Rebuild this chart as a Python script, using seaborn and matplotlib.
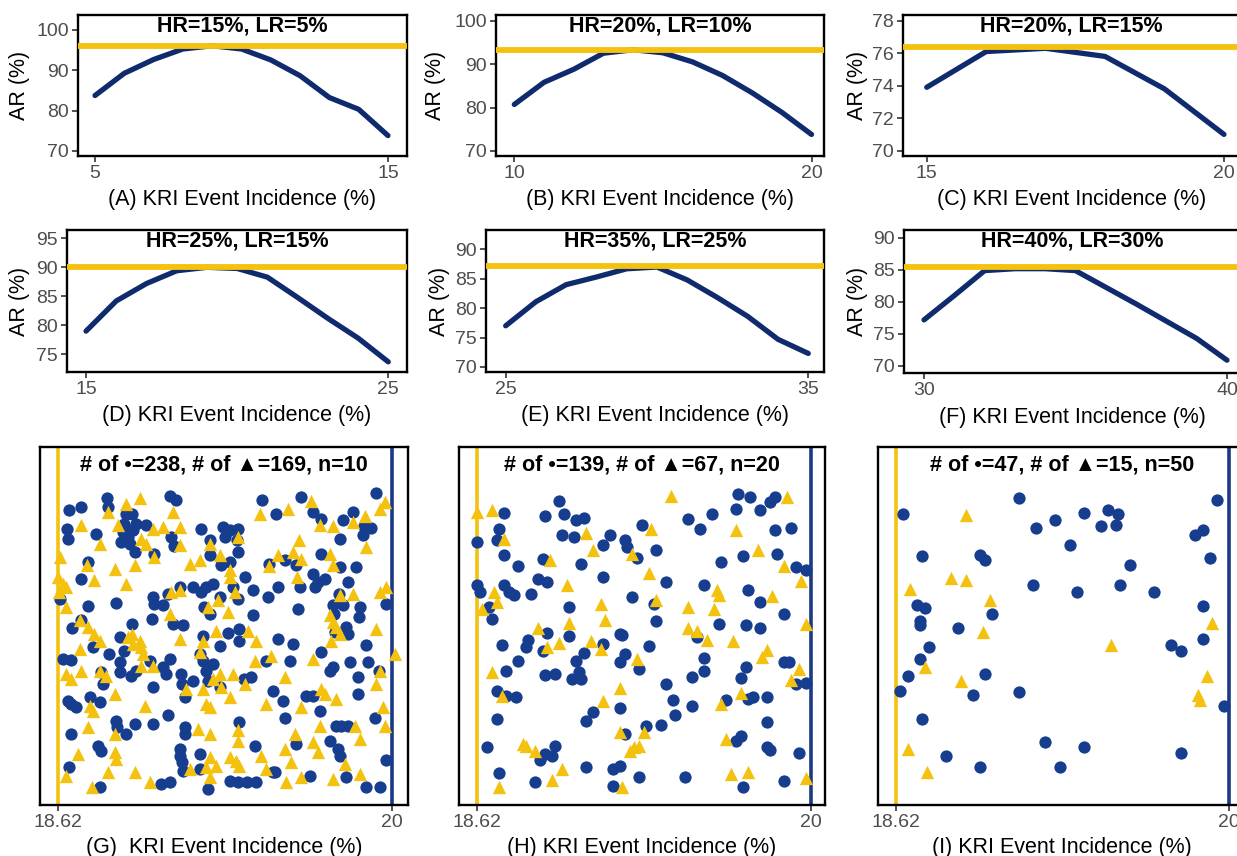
import matplotlib
matplotlib.use("Agg")
import matplotlib.pyplot as plt
import seaborn as sns
import pandas as pd

# ---------------- data: line panels ----------------
A_x = [5, 6, 7, 8, 9, 10, 11, 12, 13, 14, 15]
A_y = [83.7, 89.2, 92.6, 95.2, 96.0, 95.2, 92.5, 88.6, 83.2, 80.3, 73.8]
A_ref = 95.9
B_x = [10, 11, 12, 13, 14, 15, 16, 17, 18, 19, 20]
B_y = [80.7, 85.8, 88.8, 92.5, 93.3, 92.6, 90.5, 87.4, 83.4, 78.9, 73.8]
B_ref = 93.3
C_x = [15, 16, 17, 18, 19, 20]
C_y = [73.9, 76.1, 76.3, 75.8, 73.8, 71.0]
C_ref = 76.4
D_x = [15, 16, 17, 18, 19, 20, 21, 22, 23, 24, 25]
D_y = [79.0, 84.2, 87.2, 89.4, 90.0, 89.8, 88.3, 84.8, 81.2, 77.8, 73.7]
D_ref = 90.1
E_x = [25, 26, 27, 28, 29, 30, 31, 32, 33, 34, 35]
E_y = [77.0, 81.1, 84.0, 85.3, 86.7, 87.0, 84.8, 81.8, 78.6, 74.7, 72.3]
E_ref = 87.1
F_x = [30, 31, 32, 33, 34, 35, 36, 37, 38, 39, 40]
F_y = [77.2, 81.0, 84.9, 85.2, 85.2, 84.9, 82.3, 79.7, 77.0, 74.3, 70.9]
F_ref = 85.5

line_titles = ["HR=15%, LR=5%", "HR=20%, LR=10%", "HR=20%, LR=15%",
               "HR=25%, LR=15%", "HR=35%, LR=25%", "HR=40%, LR=30%"]
line_xlabels = ["(A) KRI Event Incidence (%)", "(B) KRI Event Incidence (%)",
                "(C) KRI Event Incidence (%)", "(D) KRI Event Incidence (%)",
                "(E) KRI Event Incidence (%)", "(F) KRI Event Incidence (%)"]
line_xticks = [[5, 15], [10, 20], [15, 20], [15, 25], [25, 35], [30, 40]]
line_yticks = [[70, 80, 90, 100], [70, 80, 90, 100], [70, 72, 74, 76, 78],
               [75, 80, 85, 90, 95], [70, 75, 80, 85, 90], [70, 75, 80, 85, 90]]

# ---------------- data: scatter panels ----------------
low_bound = 18.62
high_bound = 20
scatter_xticks = [18.62, 20]
scatter_xticklabels = ["18.62", "20"]
scatter_counts = [(238, 169, 10), (139, 67, 20), (47, 15, 50)]
scatter_xlabels = ["(G)  KRI Event Incidence (%)", "(H) KRI Event Incidence (%)",
                   "(I) KRI Event Incidence (%)"]

G_circ = [
    (18.665, 89.2), (18.716, 90.0), (18.822, 92.8), (18.827, 90.0), (18.902, 88.0), (18.927, 87.8),
    (19.081, 93.2), (19.109, 92.0), (19.464, 92.0), (19.522, 87.8), (19.625, 93.0), (19.673, 88.5),
    (19.708, 86.5), (19.797, 86.2), (19.839, 88.5), (19.932, 94.2),
    (18.659, 83.5), (18.661, 80.5), (18.889, 82.5), (18.909, 81.0), (18.930, 83.0), (18.882, 79.5),
    (18.916, 79.0), (18.937, 76.5), (19.088, 81.0), (19.212, 83.5), (19.249, 80.0), (19.302, 84.0),
    (19.329, 83.2), (19.364, 83.5), (19.359, 80.0), (19.784, 80.5), (19.883, 84.2), (19.880, 81.5),
    (19.914, 83.8),
    (18.744, 73.5), (19.015, 76.0), (19.247, 75.5), (19.295, 72.5), (19.329, 73.5), (19.364, 76.5),
    (19.391, 69.0), (19.492, 72.8), (19.560, 74.0), (19.602, 72.5), (19.708, 76.0), (19.784, 72.0),
    (19.850, 72.0),
    (18.627, 62.5), (18.716, 68.5), (18.861, 61.2), (18.744, 60.2), (19.012, 63.0), (19.015, 61.0),
    (19.054, 60.5), (19.074, 64.0), (19.123, 66.0), (19.178, 66.0), (19.212, 64.5), (19.233, 66.0),
    (19.288, 63.0), (19.260, 67.0), (19.343, 66.0), (19.488, 63.0), (19.529, 66.0), (19.673, 70.0),
    (19.694, 67.5), (19.722, 68.5), (19.779, 64.0), (19.756, 60.5), (19.797, 60.5), (19.974, 61.0),
    (18.679, 53.8), (18.714, 56.2), (18.927, 54.8), (19.095, 55.0), (19.136, 54.5), (19.249, 58.0),
    (19.322, 52.3), (19.368, 53.5), (19.370, 50.0), (19.426, 57.5), (19.529, 50.5), (19.591, 49.0),
    (19.759, 58.0), (19.811, 54.0), (19.818, 52.0), (19.894, 48.8),
    (18.641, 44.5), (18.675, 44.2), (18.833, 46.0), (18.875, 43.5), (18.875, 40.5), (18.895, 47.0),
    (18.923, 39.5), (18.944, 41.0), (19.081, 44.5), (19.068, 40.0), (19.129, 40.0), (19.134, 37.0),
    (19.205, 46.0), (19.219, 44.0), (19.233, 41.0), (19.260, 43.0), (19.419, 39.2), (19.577, 44.0),
    (19.708, 46.5), (19.742, 41.0), (19.756, 42.0), (19.825, 43.5), (19.859, 39.0), (19.901, 43.5),
    (19.946, 41.0),
    (18.661, 32.0), (18.675, 31.0), (18.696, 30.0), (18.751, 33.0), (18.792, 31.5), (19.012, 36.0),
    (19.143, 33.0), (19.388, 38.5), (19.508, 35.0), (19.549, 32.0), (19.646, 33.5), (19.673, 33.5),
    (19.701, 29.0), (19.859, 34.0),
    (18.672, 22.0), (18.861, 26.0), (18.864, 24.0), (18.902, 22.0), (18.937, 25.0), (19.074, 27.8),
    (19.143, 24.0), (19.143, 22.0), (19.368, 25.5), (19.556, 26.8), (19.770, 24.5), (19.790, 24.5),
    (19.818, 24.5), (19.928, 26.8), (19.742, 20.0), (19.012, 25.0),
    (18.785, 18.5), (18.799, 17.0), (18.665, 12.2), (19.123, 17.5), (19.123, 15.5), (19.134, 13.5),
    (19.136, 11.0), (19.205, 16.0), (19.205, 11.5), (19.432, 18.5), (19.508, 10.5), (19.605, 19.0),
    (19.777, 17.5), (19.784, 15.5), (19.976, 14.2),
    (19.047, 7.0), (19.081, 7.5), (19.240, 5.5), (19.329, 8.0), (19.364, 7.5), (19.401, 7.5),
    (19.439, 7.5), (19.515, 10.5), (19.660, 9.5), (19.811, 9.0), (19.894, 6.0), (19.949, 6.0),
    (18.792, 6.0),
    (18.941, 85.0), (18.895, 85.0), (19.098, 78.2), (19.680, 66.0),
    (18.985, 84.7), (18.778, 82.0), (19.309, 81.0), (19.426, 65.2), (19.618, 66.0), (19.818, 67.5),
    (19.364, 62.5), (19.223, 60.0), (19.611, 59.3), (19.866, 60.0), (19.863, 57.0), (19.010, 56.5),
    (18.875, 51.2), (18.765, 48.0), (19.219, 51.5), (19.288, 48.5), (19.763, 52.5), (18.999, 44.0),
    (19.054, 42.0), (18.806, 37.0), (19.178, 38.0), (19.240, 38.0), (19.288, 36.0), (19.481, 44.0),
    (18.799, 40.5),
]
G_tri = [
    (19.969, 91.5), (19.664, 91.8), (18.957, 92.8), (18.902, 91.0), (18.827, 88.5), (19.095, 88.5),
    (19.453, 87.8), (19.570, 89.5), (19.887, 87.2), (19.949, 89.5),
    (18.716, 84.5), (18.792, 79.0), (18.868, 84.5), (18.964, 80.5), (18.985, 79.0), (19.012, 83.5),
    (19.054, 84.0), (19.123, 84.0), (19.123, 78.5), (19.247, 79.0), (19.364, 81.0), (19.616, 80.0),
    (19.701, 84.5), (19.756, 84.2), (19.839, 85.5), (19.894, 78.0),
    (18.627, 75.0), (18.740, 72.5), (18.854, 71.5), (18.937, 72.5), (19.015, 75.0), (19.164, 73.0),
    (19.205, 74.0), (19.288, 75.5), (19.329, 71.0), (19.492, 72.2), (19.529, 75.5), (19.591, 76.5),
    (19.625, 74.5), (19.742, 76.0), (19.756, 72.5),
    (18.620, 69.0), (18.641, 67.0), (18.654, 66.0), (18.624, 64.5), (18.771, 68.0), (18.902, 67.0),
    (18.654, 60.0), (19.088, 64.5), (19.123, 65.0), (19.240, 60.0), (19.281, 62.0), (19.350, 64.5),
    (19.329, 69.0), (19.607, 69.0), (19.784, 63.5), (19.839, 64.0), (19.949, 64.5), (19.976, 66.0),
    (18.710, 56.0), (18.744, 54.0), (18.771, 52.0), (18.792, 50.0), (18.909, 51.0), (18.927, 52.0),
    (18.957, 50.0), (18.930, 49.0), (19.123, 50.5), (19.081, 58.0), (19.219, 50.0), (19.274, 53.0),
    (19.405, 53.0), (19.439, 50.0), (19.322, 58.5), (19.742, 57.5), (19.756, 55.5), (19.770, 54.0),
    (19.749, 50.0), (19.784, 52.0), (19.935, 53.5),
    (18.654, 40.0), (18.675, 38.5), (18.716, 41.0), (18.710, 47.5), (18.792, 41.0), (18.820, 39.5),
    (18.964, 48.0), (18.971, 46.0), (19.012, 42.5), (18.964, 42.5), (19.205, 46.5), (19.288, 40.0),
    (19.260, 38.5), (19.343, 40.0), (19.432, 44.0), (19.501, 45.5), (19.556, 39.0), (19.673, 44.5),
    (19.949, 41.0), (20.011, 46.0), (19.935, 37.0),
    (18.751, 30.5), (18.765, 29.0), (18.854, 34.0), (18.978, 30.5), (19.150, 35.5), (19.219, 35.5),
    (19.233, 31.0), (19.247, 30.0), (19.295, 36.0), (19.329, 33.0), (19.391, 37.0), (19.481, 31.0),
    (19.625, 30.0), (19.708, 35.5), (19.722, 34.0), (19.770, 32.5), (19.963, 30.0),
    (18.744, 24.0), (18.854, 22.0), (19.198, 23.5), (19.247, 22.0), (19.364, 23.2), (19.364, 20.0),
    (19.598, 22.0), (19.701, 24.5), (19.846, 24.5), (19.866, 20.5), (19.969, 24.5),
    (18.854, 16.5), (18.861, 14.5), (18.703, 16.0), (18.654, 9.5), (18.827, 10.5), (18.937, 10.5),
    (19.247, 15.0), (19.274, 12.5), (19.233, 12.0), (19.329, 15.0), (19.357, 14.0), (19.370, 12.5),
    (19.460, 15.5), (19.481, 11.5), (19.556, 17.5), (19.584, 13.5), (19.673, 19.5), (19.694, 16.5),
    (19.804, 13.0), (19.866, 10.0),
    (18.762, 6.0), (18.999, 7.5), (19.164, 11.5), (19.247, 9.0), (19.563, 7.5), (19.625, 9.0),
    (19.756, 8.5),
]
H_circ = [
    (18.73, 88.2), (18.71, 83.5), (18.70, 80.2), (18.73, 75.5), (18.62, 79.5), (18.79, 72.2),
    (18.62, 66.5), (18.63, 64.5), (18.73, 66.5), (18.75, 64.5), (18.77, 63.5), (18.67, 60.0),
    (18.68, 56.5), (18.84, 64.0), (18.87, 68.5), (18.91, 67.5), (18.90, 87.2), (18.98, 87.8),
    (18.96, 91.8), (19.03, 86.0), (19.06, 86.8), (18.97, 81.5), (19.02, 81.0), (19.14, 78.5),
    (19.17, 81.5), (19.23, 80.0), (19.24, 78.0), (19.28, 74.8), (19.30, 84.5), (19.36, 77.0),
    (19.05, 73.0), (18.89, 74.5), (19.14, 69.0), (19.00, 60.0), (19.26, 63.0), (19.35, 60.8),
    (19.36, 55.8), (19.40, 67.5), (19.49, 86.5), (19.54, 83.5), (19.59, 88.0), (19.56, 66.5),
    (19.63, 73.5), (19.69, 89.5), (19.70, 94.0), (19.75, 93.0), (19.79, 89.0), (19.83, 91.5),
    (19.85, 93.0), (19.85, 83.2), (19.92, 83.8), (19.86, 76.0), (19.94, 72.0), (19.98, 71.0),
    (19.72, 75.2), (19.74, 65.0), (19.79, 61.5), (19.89, 57.8), (19.73, 54.5), (19.79, 53.8),
    (19.62, 55.0), (19.89, 43.5), (19.91, 43.5), (19.73, 42.2), (19.71, 38.8), (19.76, 33.2),
    (19.82, 33.2), (19.82, 25.5), (19.98, 37.2), (19.94, 37.0), (18.72, 48.8), (18.83, 50.2),
    (18.82, 48.0), (18.91, 52.2), (18.89, 47.0), (18.79, 44.0), (18.74, 41.0), (18.90, 39.7),
    (18.94, 40.0), (19.00, 51.5), (19.03, 44.0), (19.01, 38.5), (19.05, 38.5), (19.04, 40.5),
    (19.14, 49.0), (19.06, 46.2), (19.21, 52.0), (19.22, 51.7), (19.23, 46.0), (19.21, 43.5),
    (19.29, 41.5), (19.33, 48.5), (19.53, 51.0), (19.56, 44.8), (19.56, 41.0), (19.51, 39.0),
    (19.40, 37.0), (19.43, 32.2), (19.44, 27.8), (19.51, 30.5), (19.65, 32.2), (19.74, 32.5),
    (19.38, 24.8), (19.32, 24.5), (19.21, 29.8), (19.23, 22.0), (19.10, 28.5), (19.07, 25.8),
    (19.07, 12.0), (19.18, 11.5), (19.21, 12.5), (19.29, 9.0), (19.18, 6.5), (18.94, 18.5),
    (18.90, 16.0), (18.88, 14.2), (18.93, 15.5), (18.86, 7.5), (18.71, 10.2), (18.70, 26.5),
    (18.66, 18.2), (18.70, 35.0), (18.74, 33.5), (18.78, 33.0), (19.48, 9.2), (19.69, 19.8),
    (19.71, 21.5), (19.82, 18.0), (19.83, 17.2), (19.95, 16.2), (19.72, 6.0), (19.89, 7.8),
]
H_tri = [
    (18.62, 88.5), (18.68, 89.0), (18.73, 80.5), (18.92, 74.2), (18.99, 66.5), (19.07, 82.2),
    (19.10, 77.0), (19.13, 61.0), (19.15, 56.0), (19.00, 55.2), (18.87, 53.8), (18.91, 48.2),
    (18.96, 49.2), (19.09, 49.8), (19.13, 47.5), (18.68, 40.5), (18.72, 33.5), (18.69, 64.5),
    (18.70, 61.5), (18.64, 59.5), (19.26, 76.0), (19.34, 83.5), (19.33, 70.2), (19.36, 62.0),
    (19.28, 44.5), (19.21, 35.8), (19.14, 31.8), (19.21, 22.5), (19.31, 22.5), (19.25, 17.0),
    (19.27, 18.0), (19.29, 18.5), (19.22, 6.0), (18.82, 18.5), (18.86, 17.0), (18.81, 19.0),
    (18.97, 11.5), (18.93, 8.2), (18.71, 6.0), (19.42, 93.2), (19.69, 83.0), (19.78, 77.0),
    (19.89, 72.2), (19.90, 93.0), (19.96, 67.8), (19.84, 63.2), (19.61, 65.0), (19.62, 63.5),
    (19.60, 59.5), (19.49, 60.0), (19.49, 53.8), (19.53, 52.8), (19.57, 50.2), (19.68, 50.0),
    (19.80, 45.0), (19.82, 47.2), (19.95, 41.5), (19.92, 38.2), (19.98, 54.8), (19.71, 34.2),
    (19.63, 31.0), (19.65, 20.5), (19.67, 10.0), (19.74, 10.5), (19.98, 8.8),
]
I_circ = [
    (18.65, 87.8), (18.73, 75.2), (18.71, 60.5), (18.74, 59.8), (18.72, 55.8), (18.72, 54.5),
    (18.76, 48.0), (18.72, 44.5), (18.67, 39.5), (18.64, 34.8), (18.73, 26.5), (18.83, 15.5),
    (18.97, 12.0), (18.88, 53.7), (18.97, 75.5), (18.99, 74.2), (19.02, 57.8), (18.99, 40.0),
    (18.94, 33.8), (19.13, 92.8), (19.13, 34.7), (19.20, 83.8), (19.19, 66.5), (19.24, 19.5),
    (19.30, 12.0), (19.28, 86.2), (19.34, 78.5), (19.37, 64.5), (19.40, 88.2), (19.40, 18.0),
    (19.47, 84.2), (19.50, 89.2), (19.54, 88.0), (19.53, 84.5), (19.55, 66.5), (19.59, 72.5),
    (19.69, 64.5), (19.76, 48.8), (19.80, 46.8), (19.80, 16.2), (19.86, 81.5), (19.89, 83.2),
    (19.92, 74.8), (19.89, 60.2), (19.89, 50.5), (19.95, 92.0), (19.98, 30.5),
]
I_tri = [
    (18.91, 87.5), (18.68, 65.5), (18.85, 68.8), (18.91, 68.0), (19.01, 62.0), (18.98, 52.5),
    (18.74, 42.2), (18.89, 37.8), (18.67, 17.5), (18.75, 10.5), (19.51, 48.8), (19.93, 55.2),
    (19.91, 39.5), (19.87, 33.8), (19.88, 32.2),
]

# ---------------- style ----------------
sns.set_style("white")
plt.rcParams["font.family"] = ["Liberation Sans", "DejaVu Sans"]

LINE_BLUE = "#0F2B6E"
PT_BLUE = "#173D8F"
VLINE_BLUE = "#1B3A86"
YELLOW = "#F4C20E"
TICK_COLOR = "#4D4D4D"

W, H = 1237, 856
fig = plt.figure(figsize=(W / 100, H / 100), dpi=100)


def make_ax(box):
    l, t, r, b = box
    ax = fig.add_axes([l / W, 1 - b / H, (r - l) / W, (b - t) / H])
    for s in ax.spines.values():
        s.set_visible(True)
        s.set_color("black")
        s.set_linewidth(1.7)
    ax.tick_params(axis="both", which="both", direction="out", length=4, width=1.2,
                   color="#333333", labelsize=14, labelcolor=TICK_COLOR, pad=2.5,
                   left=True, bottom=True)
    ax.set_facecolor("white")
    return ax, (r - l), (b - t)


# layout (pixel boxes: left, top, right, bottom)
line_boxes = [(78, 15, 407, 156), (496, 15, 824, 156), (903, 15, 1240, 156),
              (67, 230, 407, 372), (486, 230, 824, 372), (904, 230, 1240, 373)]
line_xlims = [(4.42, 15.65), (9.385, 20.42), (14.6, 20.27),
              (14.37, 25.62), (24.35, 35.52), (29.34, 40.43)]
line_ylims = [(68.76, 103.6), (68.84, 101.3), (69.67, 78.35),
              (71.95, 96.43), (69.14, 93.3), (68.9, 91.25)]
ylab_offsets = [58, 61, 46, 47, 46, 46]

line_x = [A_x, B_x, C_x, D_x, E_x, F_x]
line_y = [A_y, B_y, C_y, D_y, E_y, F_y]
line_ref = [A_ref, B_ref, C_ref, D_ref, E_ref, F_ref]

for i in range(6):
    ax, wpx, hpx = make_ax(line_boxes[i])
    sns.lineplot(x=line_x[i], y=line_y[i], ax=ax, color=LINE_BLUE, linewidth=3.8,
                 legend=False, zorder=2)
    ax.axhline(line_ref[i], color=YELLOW, linewidth=4.2, zorder=3)
    ax.set_xlim(*line_xlims[i])
    ax.set_ylim(*line_ylims[i])
    ax.set_xticks(line_xticks[i])
    ax.set_yticks(line_yticks[i])
    ax.set_xlabel(line_xlabels[i], fontsize=15.5, color="black", va="center")
    ax.set_ylabel("AR (%)", fontsize=15.5, color="black", va="center")
    ax.xaxis.set_label_coords(0.5, -44 / hpx)
    ax.yaxis.set_label_coords(-ylab_offsets[i] / wpx, 0.5)
    ax.text(0.5, 1 - 11 / hpx, line_titles[i], transform=ax.transAxes, ha="center",
            va="center", fontsize=15.5, fontweight="bold", color="black", zorder=5)
    ax.grid(False)

scatter_boxes = [(40, 447, 408, 805), (459, 447, 825, 805), (878, 447, 1246, 805)]
scatter_xlims = [(18.546, 20.066), (18.544, 20.059), (18.547, 20.07)]
scatter_ylim = (0.7, 108)
scatter_sets = [(G_circ, G_tri), (H_circ, H_tri), (I_circ, I_tri)]

for i in range(3):
    ax, wpx, hpx = make_ax(scatter_boxes[i])
    ax.axvline(low_bound, color=YELLOW, linewidth=2.6, zorder=1)
    ax.axvline(high_bound, color=VLINE_BLUE, linewidth=2.6, zorder=1)
    circ, tri = scatter_sets[i]
    dc = pd.DataFrame(circ, columns=["x", "y"])
    dt = pd.DataFrame(tri, columns=["x", "y"])
    sns.scatterplot(data=dc, x="x", y="y", ax=ax, color=PT_BLUE, marker="o", s=78,
                    linewidth=0, legend=False, zorder=3)
    sns.scatterplot(data=dt, x="x", y="y", ax=ax, color=YELLOW, marker="^", s=92,
                    linewidth=0, legend=False, zorder=4)
    ax.set_xlim(*scatter_xlims[i])
    ax.set_ylim(*scatter_ylim)
    ax.set_xticks(scatter_xticks)
    ax.set_xticklabels(scatter_xticklabels)
    ax.set_yticks([])
    ax.tick_params(axis="y", left=False)
    ax.set_ylabel("")
    ax.set_xlabel(scatter_xlabels[i], fontsize=15.5, color="black", va="center")
    ax.xaxis.set_label_coords(0.5, -42 / hpx)
    nc, nt, n = scatter_counts[i]
    ax.text(0.5, 1 - 18 / hpx, f"# of \u2022={nc}, # of \u25B2={nt}, n={n}",
            transform=ax.transAxes, ha="center", va="center", fontsize=15.5,
            fontweight="bold", color="black", zorder=6)
    ax.grid(False)

fig.savefig("out.png", dpi=100, facecolor="white")
